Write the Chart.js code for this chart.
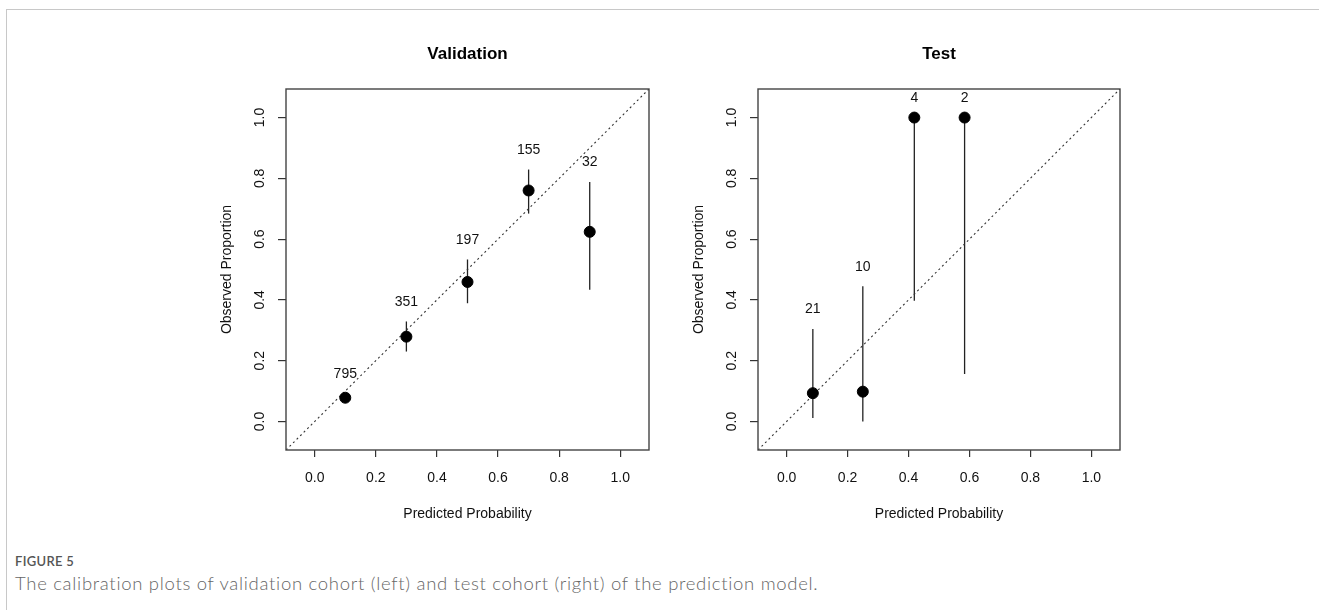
<!DOCTYPE html>
<html>
<head>
<meta charset="utf-8">
<script src="https://cdn.jsdelivr.net/npm/chart.js@4.4.1/dist/chart.umd.min.js"></script>
<style>
  body { margin: 0; background: #fff; width: 1319px; height: 610px; overflow: hidden; position: relative; }
  .frame { position: absolute; left: 6px; top: 9px; right: 0; bottom: 0; border-top: 1px solid #c8c8c8; border-left: 1px solid #c8c8c8; }
  canvas { position: absolute; top: 0; }
  #valChart { left: 205px; }
  #testChart { left: 677px; }
  .fig { position: absolute; left: 15px; top: 553px; font: 600 13px Lato, "Open Sans", sans-serif; color: #555; letter-spacing: 0.3px; }
  .cap { position: absolute; left: 15px; top: 572px; font: 300 18.5px Lato, "Open Sans", sans-serif; color: #666; letter-spacing: 0.7px; }
</style>
</head>
<body>
<div class="frame"></div>
<canvas id="valChart" width="454" height="540"></canvas>
<canvas id="testChart" width="453" height="540"></canvas>
<div class="fig">FIGURE 5</div>
<div class="cap">The calibration plots of validation cohort (left) and test cohort (right) of the prediction model.</div>
<script>
// axis range and tick labels (both panels)
const axisMin = -0.094, axisMax = 1.094;
const tickValues = [0, 0.2, 0.4, 0.6, 0.8, 1.0];

// Validation cohort
const valX = [0.1, 0.3, 0.5, 0.7, 0.9];
const valY = [0.078, 0.279, 0.459, 0.760, 0.624];
const valLo = [0.066, 0.230, 0.389, 0.684, 0.433];
const valHi = [0.092, 0.329, 0.533, 0.829, 0.788];
const valN = [795, 351, 197, 155, 32];

// Test cohort
const testX = [0.086, 0.250, 0.419, 0.584];
const testY = [0.093, 0.098, 1.0, 1.0];
const testLo = [0.011, 0.0, 0.397, 0.156];
const testHi = [0.304, 0.445, 1.0, 1.0];
const testN = [21, 10, 4, 2];

Chart.defaults.font.family = '"Liberation Sans", Arial, sans-serif';

function calibPlugin(lo, hi, ns, xs) {
  return {
    id: 'calib',
    beforeDatasetsDraw(chart) {
      const ctx = chart.ctx, sx = chart.scales.x, sy = chart.scales.y;
      ctx.save();
      ctx.strokeStyle = '#222';
      ctx.lineWidth = 1.3;
      xs.forEach((x, i) => {
        const px = sx.getPixelForValue(x);
        ctx.beginPath();
        ctx.moveTo(px, sy.getPixelForValue(lo[i]));
        ctx.lineTo(px, sy.getPixelForValue(hi[i]));
        ctx.stroke();
      });
      ctx.restore();
    },
    afterDatasetsDraw(chart) {
      const ctx = chart.ctx, sx = chart.scales.x, sy = chart.scales.y, a = chart.chartArea;
      ctx.save();
      ctx.fillStyle = '#111';
      ctx.font = '14px "Liberation Sans", Arial, sans-serif';
      ctx.textAlign = 'center';
      ctx.textBaseline = 'middle';
      xs.forEach((x, i) => {
        ctx.fillText(String(ns[i]), sx.getPixelForValue(x), sy.getPixelForValue(hi[i] + 0.064));
      });
      ctx.strokeStyle = '#444';
      ctx.lineWidth = 1.4;
      ctx.strokeRect(a.left, a.top, a.right - a.left, a.bottom - a.top);
      ctx.restore();
    }
  };
}

function makeChart(id, title, xs, ys, lo, hi, ns) {
  const points = xs.map((x, i) => ({ x: x, y: ys[i] }));
  new Chart(document.getElementById(id), {
    type: 'scatter',
    data: {
      datasets: [
        { data: points, backgroundColor: '#000', borderColor: '#000', pointRadius: 5.5, pointBorderWidth: 1 },
        { type: 'line', data: [{ x: axisMin, y: axisMin }, { x: axisMax, y: axisMax }],
          borderColor: '#333', borderWidth: 1.1, borderDash: [2, 3], pointRadius: 0, fill: false }
      ]
    },
    options: {
      responsive: false,
      animation: false,
      layout: { padding: { right: 10 } },
      plugins: {
        legend: { display: false },
        tooltip: { enabled: false },
        title: {
          display: true, text: title, fullSize: false, color: '#000',
          font: { size: 17, weight: 'bold' }, padding: { top: 44, bottom: 24.6 }
        }
      },
      scales: {
        x: {
          type: 'linear', min: axisMin, max: axisMax,
          afterBuildTicks: a => { a.ticks = tickValues.map(v => ({ value: v })); },
          afterFit: a => { a.height = 90; },
          grid: { drawOnChartArea: false, drawTicks: true, tickLength: 7, color: '#333', lineWidth: 1.2 },
          border: { display: false },
          ticks: { color: '#111', font: { size: 14 }, padding: 13, maxRotation: 0, autoSkip: false,
                   callback: v => v.toFixed(1) },
          title: { display: true, text: 'Predicted Probability', color: '#111', font: { size: 14 }, padding: { bottom: 17 } }
        },
        y: {
          type: 'linear', min: axisMin, max: axisMax,
          afterBuildTicks: a => { a.ticks = tickValues.map(v => ({ value: v })); },
          afterFit: a => { a.width = 81; },
          grid: { drawOnChartArea: false, drawTicks: true, tickLength: 8, color: '#333', lineWidth: 1.2 },
          border: { display: false },
          ticks: { color: '#111', font: { size: 14 }, padding: 8, minRotation: 90, maxRotation: 90,
                   crossAlign: 'center', autoSkip: false, callback: v => v.toFixed(1) },
          title: { display: true, text: 'Observed Proportion', color: '#111', font: { size: 14 }, padding: { top: 13.6 } }
        }
      }
    },
    plugins: [calibPlugin(lo, hi, ns, xs)]
  });
}

makeChart('valChart', 'Validation', valX, valY, valLo, valHi, valN);
makeChart('testChart', 'Test', testX, testY, testLo, testHi, testN);
</script>
</body>
</html>
